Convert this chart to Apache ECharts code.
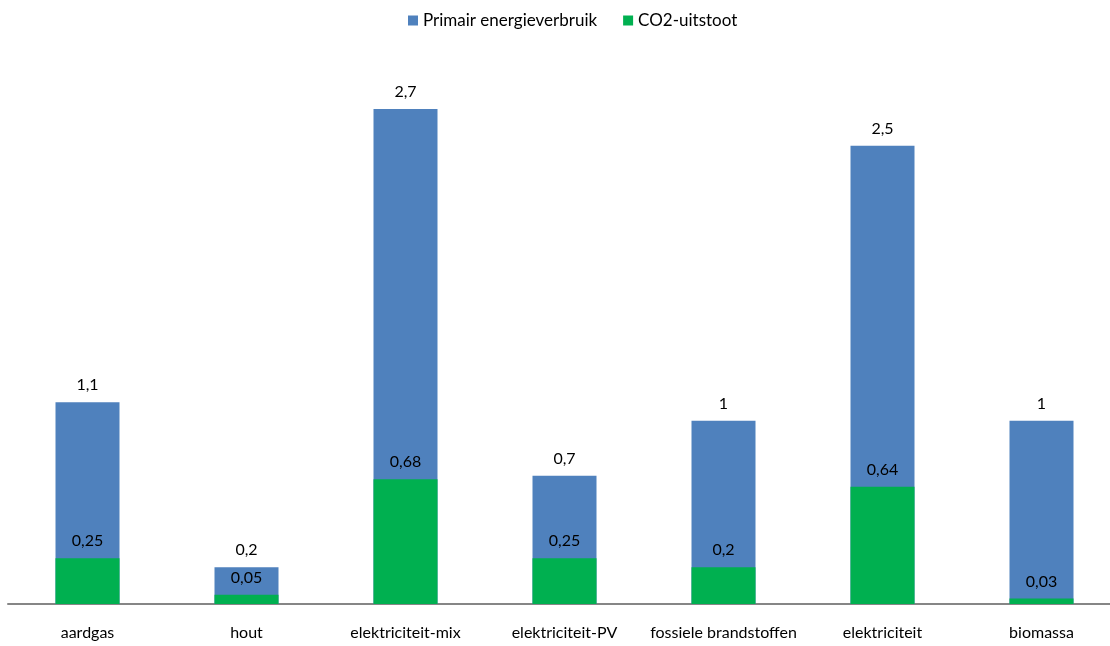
<!DOCTYPE html>
<html><head><meta charset="utf-8">
<script src="https://cdn.jsdelivr.net/npm/echarts@6/dist/echarts.min.js"></script>
<style>html,body{margin:0;padding:0;background:#fff;overflow:hidden;width:1110px;height:646px}#c{width:1121px;height:646px}</style>
</head><body><div id="c"></div>
<script>
const categories = ['aardgas','hout','elektriciteit-mix','elektriciteit-PV','fossiele brandstoffen','elektriciteit','biomassa'];
const primair = [1.1, 0.2, 2.7, 0.7, 1, 2.5, 1];
const co2 = [0.25, 0.05, 0.68, 0.25, 0.2, 0.64, 0.03];
const seriesNames = ['Primair energieverbruik','CO2-uitstoot'];
const FONT = 'Lato';
const fmt = p => String(p.value).replace('.', ',');
const chart = echarts.init(document.getElementById('c'), null, {renderer:'canvas'});
chart.setOption({
  animation:false,
  textStyle:{fontFamily:FONT},
  legend:{top:7,left:403,itemWidth:10,itemHeight:10,itemGap:26,icon:'rect',
    textStyle:{fontFamily:FONT,fontSize:17,color:'#000'}},
  grid:{left:8,right:0,top:54,bottom:42,containLabel:false},
  xAxis:{type:'category',data:categories,
    axisLine:{lineStyle:{color:'#868686',width:2}},axisTick:{show:false},
    axisLabel:{interval:0,fontFamily:FONT,fontSize:16,color:'#000',margin:21}},
  yAxis:{type:'value',min:0,max:3,show:false,splitLine:{show:false}},
  series:[
    {name:seriesNames[0],type:'bar',data:primair,barWidth:64,barGap:'-100%',
      itemStyle:{color:'#4F81BD'},
      label:{show:true,position:'top',distance:9,formatter:fmt,fontFamily:FONT,fontSize:16,color:'#000'}},
    {name:seriesNames[1],type:'bar',data:co2,barWidth:64,
      itemStyle:{color:'#00B050'},
      label:{show:true,position:'top',distance:9,formatter:fmt,fontFamily:FONT,fontSize:16,color:'#000'}}
  ]
});
</script></body></html>
